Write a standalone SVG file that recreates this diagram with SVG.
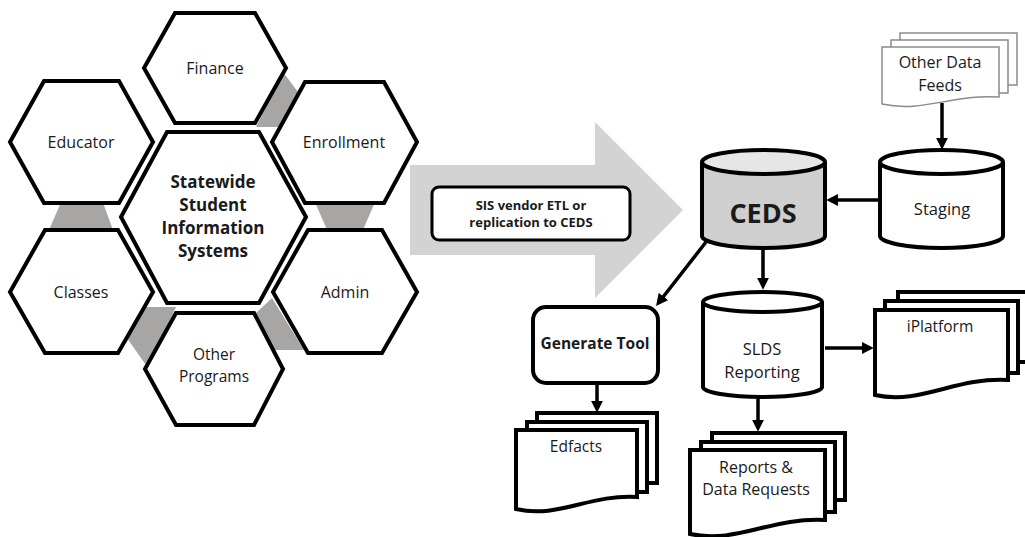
<svg xmlns="http://www.w3.org/2000/svg" width="1025" height="537" viewBox="0 0 1025 537">
<style>
.hex{fill:#fff;stroke:#000;stroke-width:4;stroke-linejoin:miter}
.band{fill:#a8a5a5}
.t{font-family:"Open Sans","Noto Sans","Liberation Sans",sans-serif;fill:#1a1a1a;text-anchor:middle}
.b{font-weight:bold}
.s{font-weight:500}
.doc{fill:#fff;stroke:#000;stroke-width:4;stroke-linejoin:miter}
.docl{fill:#fff;stroke:#8a8a8a;stroke-width:1.5}
.cyl{stroke:#000;stroke-width:4}
.con{fill:none;stroke:#000;stroke-width:3.5}
</style>
<defs>
<marker id="ah" viewBox="0 0 10 10" refX="1" refY="5" markerWidth="12" markerHeight="12" markerUnits="userSpaceOnUse" orient="auto">
<path d="M0,0 L10,5 L0,10 z" fill="#000"/>
</marker>
</defs>
<rect width="1025" height="537" fill="#fff"/>

<g id="bigarrow">
<polygon points="410,165 595,165 595,122 683,210 595,298 595,255 410,255" fill="#d3d3d3"/>
</g>

<g id="bands">
<polygon class="band" points="283,72 298,92 280,127 256,127"/>
<polygon class="band" points="62,200 102,200 113,230 49,230"/>
<polygon class="band" points="314,200 376,200 362,232 328,232"/>
<polygon class="band" points="142,307 176,307 148,368 127,338"/>
<polygon class="band" points="256,313 272,298 304,350 270,350"/>
</g>

<g id="finance">
<polygon class="hex" points="144,68 175,13 255,13 286,68 255,123 175,123"/>
<text class="t" x="215" y="74" font-size="16">Finance</text>
</g>
<g id="educator">
<polygon class="hex" points="10,142 44,81 119,81 153,142 119,203 44,203"/>
<text class="t" x="81" y="148" font-size="16">Educator</text>
</g>
<g id="enrollment">
<polygon class="hex" points="272,142 305,82 384,82 417,142 384,203 305,203"/>
<text class="t" x="344" y="148" font-size="16">Enrollment</text>
</g>
<g id="classes">
<polygon class="hex" points="10,292 45,230 118,230 153,292 118,353 45,353"/>
<text class="t" x="81" y="298" font-size="16">Classes</text>
</g>
<g id="admin">
<polygon class="hex" points="273,292 308,230 382,230 417,292 382,353 308,353"/>
<text class="t" x="345" y="298" font-size="16">Admin</text>
</g>
<g id="otherprograms">
<polygon class="hex" points="145,369 176,313 254,313 283,369 254,425 176,425"/>
<text class="t" x="214" y="360" font-size="15.5">Other</text>
<text class="t" x="214" y="382" font-size="15.5">Programs</text>
</g>
<g id="statewide">
<polygon class="hex" points="121,217 167,132 259,132 306,217 259,303 167,303"/>
<text class="t b" x="213" y="188" font-size="17">Statewide</text>
<text class="t b" x="213" y="211" font-size="17">Student</text>
<text class="t b" x="213" y="234" font-size="17">Information</text>
<text class="t b" x="213" y="257" font-size="17">Systems</text>
</g>

<g id="sislabel">
<rect x="432" y="187" width="198" height="53" rx="7" fill="#fff" stroke="#000" stroke-width="3"/>
<text class="t b" x="531" y="210" font-size="13">SIS vendor ETL or</text>
<text class="t b" x="531" y="227" font-size="13">replication to CEDS</text>
</g>

<g id="otherdatafeeds">
<rect class="docl" x="900" y="33" width="117" height="52"/>
<rect class="docl" x="891" y="40" width="117" height="53"/>
<path class="docl" d="M882,47 H999 V97 C952,94 923,113 882,104 Z"/>
<text class="t" x="940" y="68" font-size="16">Other Data</text>
<text class="t" x="940" y="91" font-size="16">Feeds</text>
</g>

<g id="ceds">
<path class="cyl" fill="#cfcfcf" d="M702,162 V236 A61.5,12 0 0 0 825,236 V162"/>
<ellipse class="cyl" cx="763.5" cy="162" rx="61.5" ry="12" fill="#e6e6e6"/>
<text class="t b" x="763" y="223" font-size="27">CEDS</text>
</g>

<g id="staging">
<path class="cyl" fill="#fff" d="M880,162 V236 A61.5,12 0 0 0 1003,236 V162"/>
<ellipse class="cyl" cx="941.5" cy="162" rx="61.5" ry="12" fill="#fff"/>
<text class="t s" x="942" y="215" font-size="16.5">Staging</text>
</g>

<g id="generatetool">
<rect x="533" y="307" width="125" height="76" rx="13" fill="#fff" stroke="#000" stroke-width="4"/>
<text class="t b" x="595" y="349" font-size="15.5">Generate Tool</text>
</g>

<g id="sldsreporting">
<path class="cyl" fill="#fff" d="M703,302 V387 A59.5,10 0 0 0 822,387 V302"/>
<ellipse class="cyl" cx="762.5" cy="302" rx="59.5" ry="10" fill="#fff"/>
<text class="t s" x="762" y="355" font-size="16.5">SLDS</text>
<text class="t s" x="762" y="378" font-size="16.5">Reporting</text>
</g>

<g id="iplatform">
<rect class="doc" x="898" y="292" width="140" height="70"/>
<rect class="doc" x="885" y="301" width="133" height="72"/>
<path class="doc" d="M875,310 H1008 V380 C955,377 921,405 875,395 Z"/>
<text class="t s" x="940" y="332" font-size="15.5">iPlatform</text>
</g>

<g id="edfacts">
<rect class="doc" x="537" y="413" width="120" height="70"/>
<rect class="doc" x="527" y="422" width="120" height="70"/>
<path class="doc" d="M516,430 H637 V497 C589,494 558,519 516,509 Z"/>
<text class="t s" x="576" y="452" font-size="15.5">Edfacts</text>
</g>

<g id="reports">
<rect class="doc" x="712" y="433" width="133" height="67"/>
<rect class="doc" x="701" y="442" width="134" height="70"/>
<path class="doc" d="M690,450 H825 V520 C771,517 737,544 690,534 Z"/>
<text class="t" x="756" y="473" font-size="16">Reports &amp;</text>
<text class="t" x="756" y="495" font-size="16">Data Requests</text>
</g>

<g id="connectors">
<line class="con" x1="942" y1="103" x2="942" y2="139" marker-end="url(#ah)"/>
<line class="con" x1="880" y1="200" x2="837" y2="200" marker-end="url(#ah)"/>
<line class="con" x1="763" y1="248" x2="763" y2="279" marker-end="url(#ah)"/>
<line class="con" x1="706" y1="242" x2="662.7" y2="297.5" marker-end="url(#ah)"/>
<line class="con" x1="825" y1="348" x2="863" y2="348" marker-end="url(#ah)"/>
<line class="con" x1="758" y1="397" x2="758" y2="421" marker-end="url(#ah)"/>
<line class="con" x1="597" y1="383" x2="597" y2="402" marker-end="url(#ah)"/>
</g>
</svg>
